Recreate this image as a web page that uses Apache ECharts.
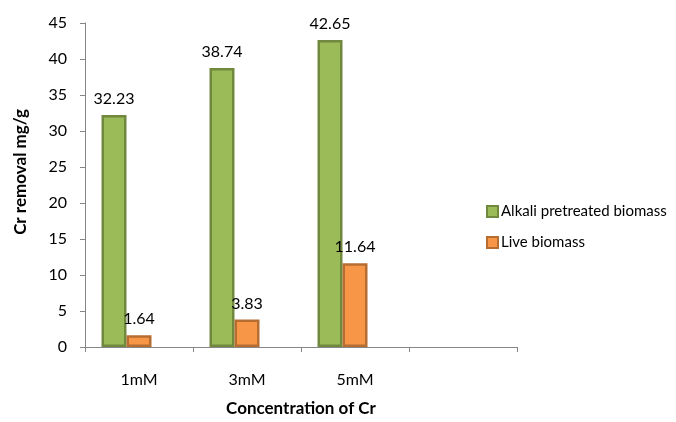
<!DOCTYPE html>
<html>
<head>
<meta charset="utf-8">
<script src="https://cdn.jsdelivr.net/npm/echarts@6/dist/echarts.min.js"></script>
<style>
  html, body { margin: 0; padding: 0; background: #fff; }
  #chart { width: 676px; height: 422px; }
</style>
</head>
<body>
<div id="chart"></div>
<script>
// Chromium removal per concentration
const categories = ['1mM', '3mM', '5mM', ''];
const alkaliPretreated = [32.23, 38.74, 42.65, null];
const liveBiomass = [1.64, 3.83, 11.64, null];
const spareSlot = [null, null, null, null];
const yTicks = { min: 0, max: 45, interval: 5 };

const FONT = 'Lato, "Open Sans", sans-serif';

const chart = echarts.init(document.getElementById('chart'), null, { renderer: 'canvas' });

function barSeries(name, data, fill, border) {
  return {
    name: name,
    type: 'bar',
    data: data,
    barWidth: 25,
    barGap: '0%',
    itemStyle: { color: fill, borderColor: border, borderWidth: 2.5 },
    label: {
      show: true,
      position: 'top',
      distance: 8,
      color: '#000',
      fontFamily: FONT,
      fontSize: 16,
      formatter: p => (p.value == null ? '' : p.value.toFixed(2))
    }
  };
}

chart.setOption({
  animation: false,
  backgroundColor: '#fff',
  grid: { left: 85, right: 159, top: 23, bottom: 74 },
  legend: {
    data: ['Alkali pretreated biomass', 'Live biomass'],
    orient: 'vertical',
    left: 481,
    top: 199,
    itemWidth: 11,
    itemHeight: 11,
    itemGap: 16,
    icon: 'rect',
    textStyle: { fontFamily: FONT, fontSize: 15, color: '#000', padding: [0, 0, 0, -2] }
  },
  graphic: [{
    type: 'text',
    x: 21,
    y: 172,
    rotation: Math.PI / 2,
    style: {
      text: 'Cr removal mg/g',
      fontFamily: FONT,
      fontSize: 17,
      fontWeight: 'bold',
      fill: '#000',
      align: 'center',
      verticalAlign: 'middle'
    }
  }],
  xAxis: {
    type: 'category',
    data: categories,
    name: 'Concentration of Cr',
    nameLocation: 'middle',
    nameGap: 53,
    nameTextStyle: { fontFamily: FONT, fontSize: 17, fontWeight: 'bold', color: '#000' },
    axisLine: { lineStyle: { color: '#868686', width: 1 } },
    axisTick: { show: true, length: 5, lineStyle: { color: '#868686' } },
    axisLabel: { margin: 25, fontFamily: FONT, fontSize: 16, color: '#000' }
  },
  yAxis: {
    type: 'value',
    min: yTicks.min,
    max: yTicks.max,
    interval: yTicks.interval,
    axisLine: { show: true, lineStyle: { color: '#868686', width: 1 } },
    axisTick: { show: true, length: 5, lineStyle: { color: '#868686' } },
    axisLabel: { margin: 18, fontFamily: FONT, fontSize: 16, color: '#000' },
    splitLine: { show: false }
  },
  series: [
    barSeries('Alkali pretreated biomass', alkaliPretreated, '#9BBB59', '#71893F'),
    barSeries('Live biomass', liveBiomass, '#F79646', '#B66D31'),
    barSeries('', spareSlot, 'transparent', 'transparent')
  ]
});
</script>
</body>
</html>
